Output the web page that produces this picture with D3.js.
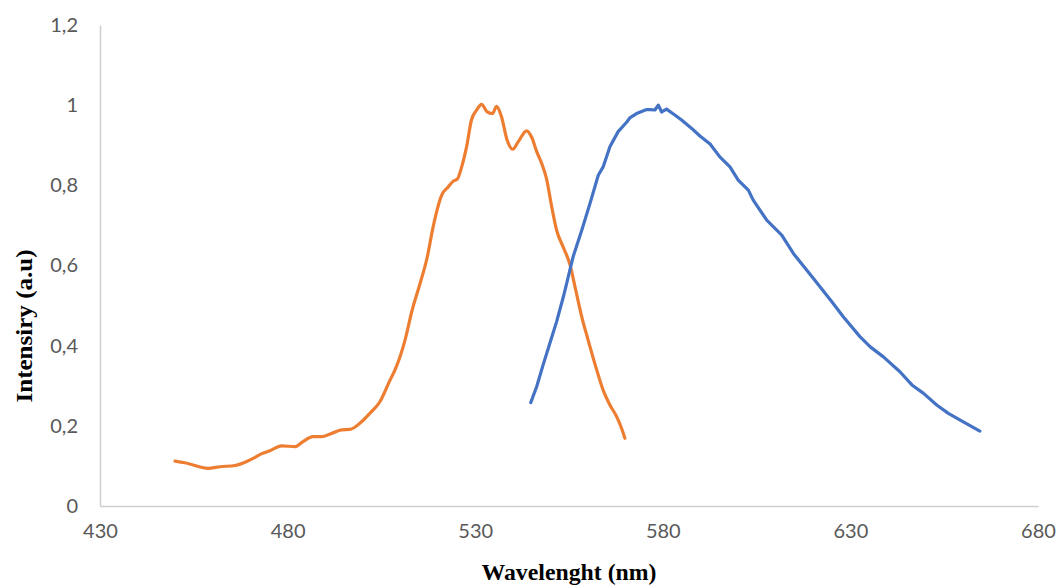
<!DOCTYPE html>
<html><head><meta charset="utf-8">
<script src="https://cdn.jsdelivr.net/npm/d3@7"></script>
<style>body{margin:0;background:#fff}svg{display:block}</style>
</head><body>
<svg id="c" width="1058" height="585"></svg>
<script>
const xTicks = [430, 480, 530, 580, 630, 680];
const yTicks = [0, 0.2, 0.4, 0.6, 0.8, 1, 1.2];
const yTickLabels = ["0", "0,2", "0,4", "0,6", "0,8", "1", "1,2"];

const orangeX = [450,452.6,458.8,462,466,470,473,475.3,478.4,482,484,486.8,489,491.7,494.4,496.6,499.7,502,504.6,507.3,508.6,511.3,513.2,515.3,517.2,518.8,521.1,522.8,524.2,525.2,526.4,527.7,529.0,530.4,531.7,533.2,534.6,535.7,537.0,538.5,540.0,541.5,543.7,545.0,546.4,547.7,549.0,550.4,551.7,553.5,555.3,556.6,558.4,560.1,562.4,564.1,565.9,567.7,569.0,569.9];
const orangeY = [0.112,0.108,0.094,0.098,0.101,0.115,0.130,0.138,0.150,0.148,0.160,0.173,0.173,0.181,0.190,0.191,0.210,0.232,0.260,0.314,0.339,0.414,0.489,0.555,0.620,0.697,0.776,0.796,0.811,0.815,0.846,0.896,0.963,0.988,1.002,0.983,0.979,0.997,0.971,0.913,0.890,0.909,0.936,0.921,0.884,0.855,0.817,0.746,0.688,0.645,0.601,0.547,0.472,0.414,0.339,0.289,0.252,0.223,0.194,0.169];

const blueX = [544.8,546.4,548.1,549.9,551.7,553.5,554.4,556.1,558.4,560.6,562.8,564.1,565.9,568.1,570.4,571.3,573.0,575.7,576.6,577.9,578.8,579.7,581.0,583.3,585.0,587.7,589.9,592.6,595.2,597.9,600.1,602.8,604.1,607.7,611.7,614.8,620.1,625.0,628.1,632.6,635.3,638.8,643.2,646.4,649.5,653.0,656.1,660.1,664.5];
const blueY = [0.258,0.298,0.352,0.406,0.460,0.522,0.556,0.622,0.688,0.755,0.825,0.846,0.896,0.934,0.958,0.969,0.979,0.989,0.989,0.988,1.000,0.983,0.990,0.975,0.963,0.942,0.923,0.903,0.871,0.846,0.813,0.788,0.763,0.713,0.676,0.630,0.568,0.510,0.472,0.422,0.397,0.372,0.335,0.302,0.281,0.252,0.231,0.210,0.187];

const svg = d3.select("#c");
const x = d3.scaleLinear().domain([430, 680]).range([100, 1038]);
const y = d3.scaleLinear().domain([0, 1.2]).range([506, 25]);

const gx = svg.append("g").attr("transform", "translate(0,506)")
  .call(d3.axisBottom(x).tickValues(xTicks).tickSize(0).tickPadding(18).tickFormat(d3.format("d")));
const gy = svg.append("g").attr("transform", "translate(100,0)")
  .call(d3.axisLeft(y).tickValues(yTicks).tickSize(0).tickPadding(22).tickFormat((d, i) => yTickLabels[i]));
[gx, gy].forEach(g => {
  g.select(".domain").attr("stroke", "#d0d0d0").attr("stroke-width", 1.5);
  g.selectAll("text").attr("fill", "#595959").style("font-family", "Lato, 'Liberation Sans', sans-serif").style("font-size", "20px");
});
gx.selectAll("text").attr("dy", "0.71em");

const orange = orangeX.map((v, i) => [v, orangeY[i]]);
const blue = blueX.map((v, i) => [v, blueY[i]]);

svg.append("path").datum(orange)
  .attr("fill", "none").attr("stroke", "#ED7D31").attr("stroke-width", 3.2)
  .attr("stroke-linejoin", "round").attr("stroke-linecap", "round")
  .attr("d", d3.line().x(d => x(d[0])).y(d => y(d[1])).curve(d3.curveMonotoneX));

svg.append("path").datum(blue)
  .attr("fill", "none").attr("stroke", "#4472C4").attr("stroke-width", 3.2)
  .attr("stroke-linejoin", "round").attr("stroke-linecap", "round")
  .attr("d", d3.line().x(d => x(d[0])).y(d => y(d[1])));

svg.append("text").attr("x", 569).attr("y", 579.5).attr("text-anchor", "middle")
  .attr("textLength", 175).attr("lengthAdjust", "spacingAndGlyphs")
  .style("font-family", "'Liberation Serif', 'Times New Roman', serif").style("font-weight", "bold").style("font-size", "23px")
  .text("Wavelenght (nm)");
svg.append("text").attr("transform", "translate(31.5,326) rotate(-90)").attr("text-anchor", "middle")
  .attr("textLength", 153).attr("lengthAdjust", "spacingAndGlyphs")
  .style("font-family", "'Liberation Serif', 'Times New Roman', serif").style("font-weight", "bold").style("font-size", "24px")
  .text("Intensiry (a.u)");
</script>
</body></html>
